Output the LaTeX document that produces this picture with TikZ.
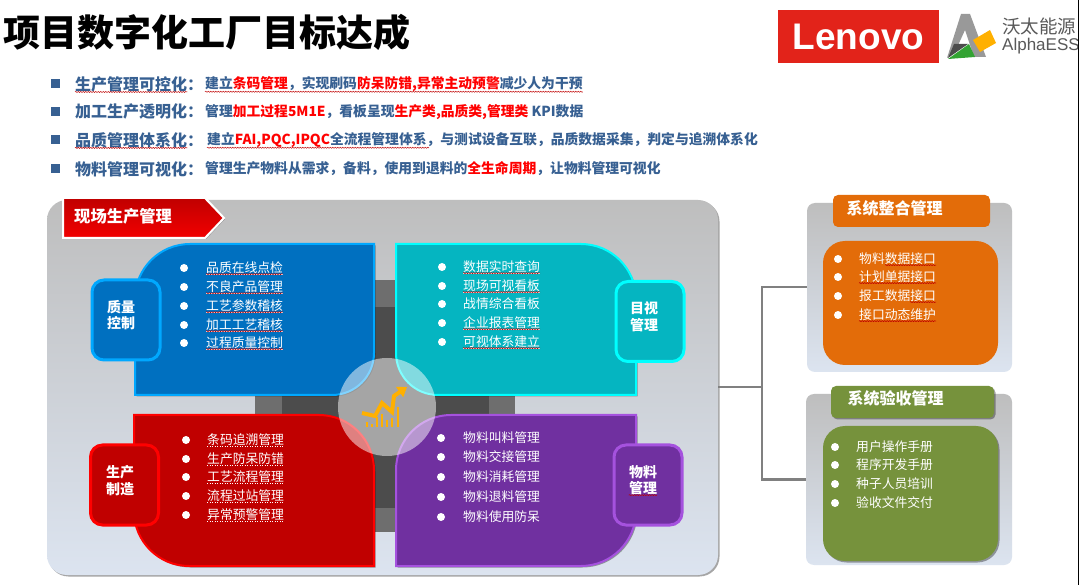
\documentclass[tikz,border=0pt]{standalone}
\usepackage{fontspec}
\setmainfont{Noto Sans CJK SC}
\newfontfamily\latinfont{Liberation Sans}
\usetikzlibrary{calc}
\usetikzlibrary{shadows}
\usetikzlibrary{arrows.meta}
\usetikzlibrary{decorations.pathmorphing}
\definecolor{inkblue}{HTML}{376092}
\definecolor{lenovored}{HTML}{E2231A}
\definecolor{chartgold}{HTML}{FFB000}
\definecolor{orangebox}{HTML}{E36C09}
\definecolor{greenbox}{HTML}{76923C}
\definecolor{panelgrey}{HTML}{BEBEBE}
\definecolor{panelmid}{HTML}{D9D9D9}
\definecolor{panelpale}{HTML}{DCE4F0}
\definecolor{blueink}{HTML}{0070C0}
\definecolor{blueedge}{HTML}{00A8FF}
\definecolor{tealink}{HTML}{05B5C1}
\definecolor{tealedge}{HTML}{00FFFF}
\definecolor{redink}{HTML}{C00000}
\definecolor{rededge}{HTML}{FF0000}
\definecolor{violetink}{HTML}{7030A0}
\definecolor{violetedge}{HTML}{A552DE}
\tikzset{
    softshadow/.style = {drop shadow={shadow xshift=1.5pt,shadow yshift=-1.5pt,opacity=.35,fill=black}},
    greypanel/.style = {rectangle,top color=panelgrey,middle color=panelmid,bottom color=panelpale,inner sep=0pt},
    quarter/.style = {line width=2pt,softshadow},
    tabbox/.style = {rectangle,rounded corners=12pt,line width=3pt,minimum width=68pt,minimum height=80pt,inner sep=0pt},
    tablabel/.style = {inner sep=0pt,text=white,font=\fontsize{14}{16.5}\selectfont\bfseries,align=center},
    listtext/.style = {anchor=west,inner sep=0pt,text=white,font=\fontsize{12.8}{15}\selectfont},
    dotmark/.style = {circle,fill=white,inner sep=0pt,minimum size=8pt},
    headbox/.style = {rectangle,rounded corners=5pt,minimum width=157pt,minimum height=32pt,inner sep=0pt},
    headlabel/.style = {inner sep=0pt,text=white,font=\fontsize{16}{18}\selectfont\bfseries},
    bodybox/.style = {rectangle,rounded corners=22pt,minimum width=175pt,inner sep=0pt},
    leadtext/.style = {anchor=west,inner sep=0pt,text=inkblue,font=\fontsize{16}{18}\selectfont\bfseries},
    linetext/.style = {anchor=west,inner sep=0pt,text=inkblue,font=\fontsize{13.8}{16}\selectfont\bfseries},
    squaremark/.style = {rectangle,fill=inkblue,inner sep=0pt,minimum size=9pt},
    wavy/.style = {red!75!black,line width=.5pt,decorate,decoration={snake,segment length=2.5pt,amplitude=.55pt}},
    rule/.style = {white,line width=.5pt},
    linkline/.style = {draw=black!50,line width=2pt}
}
\newcommand{\hot}[1]{\textcolor{red}{#1}}
\begin{document}
\begin{tikzpicture}[x=1pt,y=-1pt]
    \useasboundingbox (0,0) rectangle (1080,585);
    \fill[white] (0,0) rectangle (1080,585);
    % title and logos
    \node (title) [anchor=west,inner sep=0pt,font=\fontsize{37}{40}\selectfont\bfseries] at (3,32) {项目数字化工厂目标达成};
    \node (lenovo) [rectangle,fill=lenovored,minimum width=161pt,minimum height=53pt,inner sep=0pt,text=white,
        font=\fontsize{37}{40}\selectfont\latinfont\bfseries] at (858.5,36.5) {Lenovo};
    \fill[black!40] (947,58) -- (961,14) -- (970,14) -- (986,57) -- (974,57) -- (965,30) -- (955,52) -- cycle;
    \fill[black!70] (948,58) -- (954,44) -- (968,44) -- cycle;
    \fill[green!55!black!80] (948,59) -- (969,44) -- (975,57) -- cycle;
    \fill[chartgold] (973,40) -- (990,30) -- (996,43) -- (980,52) -- cycle;
    \node (alphacn) [anchor=west,inner sep=0pt,text=black!65,font=\fontsize{18.5}{20}\selectfont] at (1002,26) {沃太能源};
    \node (alphaen) [anchor=west,inner sep=0pt,text=black!65,font=\fontsize{17}{20}\selectfont\latinfont] at (1002,46) {AlphaESS};
    \draw[black,line width=1.3pt] (1078.6,0) -- (1078.6,585);
    % goal lines
    \foreach \n/\y/\t in {1/84/生产管理可控化：,2/112/加工生产透明化：,3/140/品质管理体系化：,4/169/物料管理可视化：}{
        \node (mark\n) [squaremark] at (55,\y) {};
        \node (lead\n) [leadtext] at (75,\y) {\t};
    }
    \node (line1) [linetext] at (205,84) {建立\hot{条码管理}，实现刷码\hot{防呆防错,异常主动预警}减少人为干预};
    \node (line2) [linetext] at (205,112) {管理\hot{加工过程5M1E}，看板呈现\hot{生产类,品质类,管理类} KPI数据};
    \node (line3) [linetext] at (207,140) {建立\hot{FAI,PQC,IPQC}全流程管理体系，与测试设备互联，品质数据采集，判定与追溯体系化};
    \node (line4) [linetext] at (205,169) {管理生产物料从需求，备料，使用到退料的\hot{全生命周期}，让物料管理可视化};
    \draw[wavy] (lead1.south west) -- ($(lead1.south east)+(-16,0)$);
    \draw[wavy] (line1.south west) -- (line1.south east);
    \draw[wavy] (lead3.south west) -- ($(lead3.south east)+(-16,0)$);
    \draw[wavy] (line3.south west) -- ($(line3.south west)+(222,0)$);
    % main panel
    \node (main) [greypanel,rounded corners=20pt,minimum width=671pt,minimum height=375pt,softshadow] at (382.5,387.5) {};
    \fill[black!57] (255,280) rectangle (515,532);
    \fill[black!70] (282,307) rectangle (489,508);
    % quarters
    \draw[quarter,draw=blueedge,fill=blueink] (135,395) [rounded corners=55pt] -- (135,244) [sharp corners] -- (374,244) [rounded corners=42pt] -- (374,395) [sharp corners] -- cycle;
    \draw[quarter,draw=tealedge,fill=tealink] (636,395) [rounded corners=55pt] -- (636,244) [sharp corners] -- (396,244) [rounded corners=42pt] -- (396,395) [sharp corners] -- cycle;
    \draw[quarter,draw=rededge,fill=redink] (134,415) [rounded corners=55pt] -- (374,415) [sharp corners] -- (374,566) [rounded corners=55pt] -- (134,566) [sharp corners] -- cycle;
    \draw[quarter,draw=violetedge,fill=violetink] (396,566) [rounded corners=55pt] -- (396,415) [sharp corners] -- (636,415) [rounded corners=55pt] -- (636,566) [sharp corners] -- cycle;
    % side tabs
    \node (qualitytab) [tabbox,draw=blueedge,fill=blueink] at (126,320) {};
    \node (visualtab) [tabbox,draw=tealedge,fill=tealink] at (650,321.5) {};
    \node (maketab) [tabbox,draw=rededge,fill=redink] at (124.5,485) {};
    \node (stocktab) [tabbox,draw=violetedge,fill=violetink] at (648,485) {};
    \node (qualitylabel) [tablabel] at (121,315) {质量\\控制};
    \node (visuallabel) [tablabel] at (644,316.5) {目视\\管理};
    \node (makelabel) [tablabel] at (120,480.5) {生产\\制造};
    \node (stocklabel) [tablabel] at (643,480) {物料\\管理};
    \draw[wavy] (stocklabel.south west) -- (stocklabel.south east);
    % lists
    \foreach \n/\y/\t in {1/268/品质在线点检,2/287/不良产品管理,3/306/工艺参数稽核,4/325/加工工艺稽核,5/343/过程质量控制}{
        \node (qualityb\n) [dotmark] at (184,\y) {};
        \node (quality\n) [listtext] at (206,\y) {\t};
        \draw[rule] (quality\n.south west) -- (quality\n.south east);
        \draw[wavy] (quality\n.south west) -- (quality\n.south east);
    }
    \foreach \n/\y/\t in {1/267/数据实时查询,2/286/现场可视看板,3/304/战情综合看板,4/323/企业报表管理,5/342/可视体系建立}{
        \node (visualb\n) [dotmark] at (442,\y) {};
        \node (visual\n) [listtext] at (463,\y) {\t};
    }
    \foreach \n in {1,2,4,5}{
        \draw[rule] (visual\n.south west) -- (visual\n.south east);
        \draw[wavy] (visual\n.south west) -- (visual\n.south east);
    }
    \foreach \n/\y/\t in {1/440/条码追溯管理,2/459/生产防呆防错,3/477/工艺流程管理,4/496/流程过站管理,5/515/异常预警管理}{
        \node (makeb\n) [dotmark] at (186,\y) {};
        \node (make\n) [listtext] at (207,\y) {\t};
        \draw[rule,dotted] (make\n.south west) -- (make\n.south east);
    }
    \foreach \n/\y/\t in {1/438/物料叫料管理,2/457/物料交接管理,3/477/物料消耗管理,4/497/物料退料管理,5/517/物料使用防呆}{
        \node (stockb\n) [dotmark] at (441,\y) {};
        \node (stock\n) [listtext] at (463,\y) {\t};
    }
    % centre circle with chart
    \node (hub) [circle,fill=white,opacity=.5,minimum size=98pt,inner sep=0pt] at (387,407) {};
    \foreach \x/\t in {367/422,372/424,377/417,382/414,387/420,392/418,398/407}{
        \draw[chartgold,line width=2pt] (\x,427) -- (\x,\t);
    }
    \draw[chartgold,line width=4pt,-{Triangle[length=9pt,width=12pt]}] (362,413) -- (375,416) -- (382,403) -- (392,412) -- (394,396) -- (407,387);
    % side panels
    \node (sideone) [greypanel,rounded corners=8pt,minimum width=205pt,minimum height=169pt] at (909.5,287.5) {};
    \node (sidetwo) [greypanel,rounded corners=8pt,minimum width=206pt,minimum height=171pt] at (909,479.5) {};
    \node (sideonehead) [headbox,fill=orangebox] at (911.5,211) {};
    \node (sideonetitle) [headlabel] at (894.5,208) {系统整合管理};
    \node (sideonebody) [bodybox,fill=orangebox,minimum height=124pt] at (910.5,303) {};
    \node (sidetwohead) [headbox,fill=greenbox,minimum width=163pt,softshadow] at (912.5,402) {};
    \node (sidetwotitle) [headlabel] at (895.5,398) {系统验收管理};
    \node (sidetwobody) [bodybox,fill=greenbox,minimum height=135pt,softshadow] at (910.5,493.5) {};
    \foreach \n/\y/\t in {1/259/物料数据接口,2/277/计划单据接口,3/296/报工数据接口,4/315/接口动态维护}{
        \node (linkb\n) [dotmark] at (838,\y) {};
        \node (link\n) [listtext] at (859,\y) {\t};
    }
    \draw[wavy] ($(link1.south west)+(26,0)$) -- (link1.south east);
    \draw[wavy] (link2.south west) -- (link2.south east);
    \draw[wavy] ($(link3.south west)+(51,0)$) -- (link3.south east);
    \draw[wavy] (link4.south west) -- (link4.south east);
    \foreach \n/\y/\t in {1/447/用户操作手册,2/465/程序开发手册,3/484/种子人员培训,4/503/验收文件交付}{
        \node (handb\n) [dotmark] at (835,\y) {};
        \node (hand\n) [listtext] at (856,\y) {\t};
    }
    % connectors
    \coordinate (fork) at (762,387.5);
    \draw[linkline] (main.east) -- (fork);
    \draw[linkline] (fork) |- (sideone.west);
    \draw[linkline] (fork) |- (sidetwo.west);
    % banner
    \draw[white,line width=2pt,top color=redink,bottom color=red!95!black,drop shadow={shadow xshift=1pt,shadow yshift=-1pt,opacity=.3,fill=black}] (63,198) -- (205,198) -- (224,218) -- (205,238) -- (63,238) -- cycle;
    \node (banner) [anchor=west,inner sep=0pt,text=white,font=\fontsize{16.3}{18}\selectfont\bfseries] at (74,216) {现场生产管理};
\end{tikzpicture}
\end{document}
